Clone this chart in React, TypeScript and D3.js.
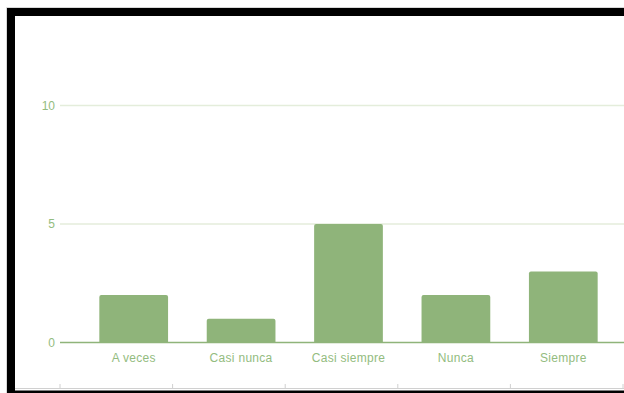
import React from "react";
import * as d3 from "d3";

const categories = ["A veces", "Casi nunca", "Casi siempre", "Nunca", "Siempre"];
const counts = [2, 1, 5, 2, 3];
const yTicks = [0, 5, 10];

const W = 624;
const H = 393;
const BAR = "#8fb47a";
const LABEL = "#93bc80";
const GRID = "#e4eddb";
const FONT = "'Liberation Sans', Arial, sans-serif";

export default function App() {
  const x = d3
    .scaleBand<string>()
    .domain(categories)
    .range([80, 617])
    .paddingInner(0.36)
    .paddingOuter(0.18);
  const y = d3.scaleLinear().domain([0, 10]).range([342.5, 105.5]);
  const bottomTicks = d3.range(6).map((i) => 60 + i * 112.6);

  const barPath = (cx: number, w: number, top: number, bottom: number) => {
    const r = Math.min(2, (bottom - top) / 2);
    const p = d3.path();
    p.moveTo(cx, bottom);
    p.lineTo(cx, top + r);
    p.quadraticCurveTo(cx, top, cx + r, top);
    p.lineTo(cx + w - r, top);
    p.quadraticCurveTo(cx + w, top, cx + w, top + r);
    p.lineTo(cx + w, bottom);
    p.closePath();
    return p.toString();
  };

  return (
    <svg
      width={W}
      height={H}
      style={{ position: "fixed", left: 0, top: 0, background: "#fff" }}
      fontFamily={FONT}
    >
      <rect x={0} y={0} width={W} height={H} fill="#fff" />
      {/* frame */}
      <line x1={6.5} y1={7.5} x2={W} y2={7.5} stroke="#d8d8d8" />
      <line x1={6.5} y1={7.5} x2={6.5} y2={H} stroke="#d8d8d8" />
      <rect x={7} y={8} width={W - 7} height={8} fill="#000" />
      <rect x={7} y={8} width={8} height={H - 8} fill="#000" />
      <rect x={7} y={390.5} width={W - 7} height={3} fill="#000" />
      <line x1={15} y1={388.5} x2={W} y2={388.5} stroke="#d0d0d0" />
      {bottomTicks.map((t, i) => (
        <line key={i} x1={t} y1={384} x2={t} y2={388} stroke="#d0d0d0" />
      ))}

      {/* gridlines and y labels */}
      {yTicks.map((t) => (
        <g key={t}>
          {t !== 0 && (
            <line x1={60} y1={y(t)} x2={W} y2={y(t)} stroke={GRID} strokeWidth={1.5} />
          )}
          <text
            x={55}
            y={y(t)}
            dy="0.36em"
            textAnchor="end"
            fontSize={12}
            fill={LABEL}
          >
            {t}
          </text>
        </g>
      ))}

      {/* bars */}
      {categories.map((c, i) => (
        <path
          key={c}
          d={barPath(x(c)!, x.bandwidth(), y(counts[i]), y(0))}
          fill={BAR}
        />
      ))}

      {/* baseline */}
      <line x1={60} y1={y(0)} x2={W} y2={y(0)} stroke={BAR} strokeWidth={1.5} />

      {/* category labels */}
      {categories.map((c) => (
        <text
          key={c}
          x={x(c)! + x.bandwidth() / 2}
          y={361.5}
          textAnchor="middle"
          fontSize={12}
          letterSpacing={0.3}
          fill={LABEL}
        >
          {c}
        </text>
      ))}
    </svg>
  );
}
